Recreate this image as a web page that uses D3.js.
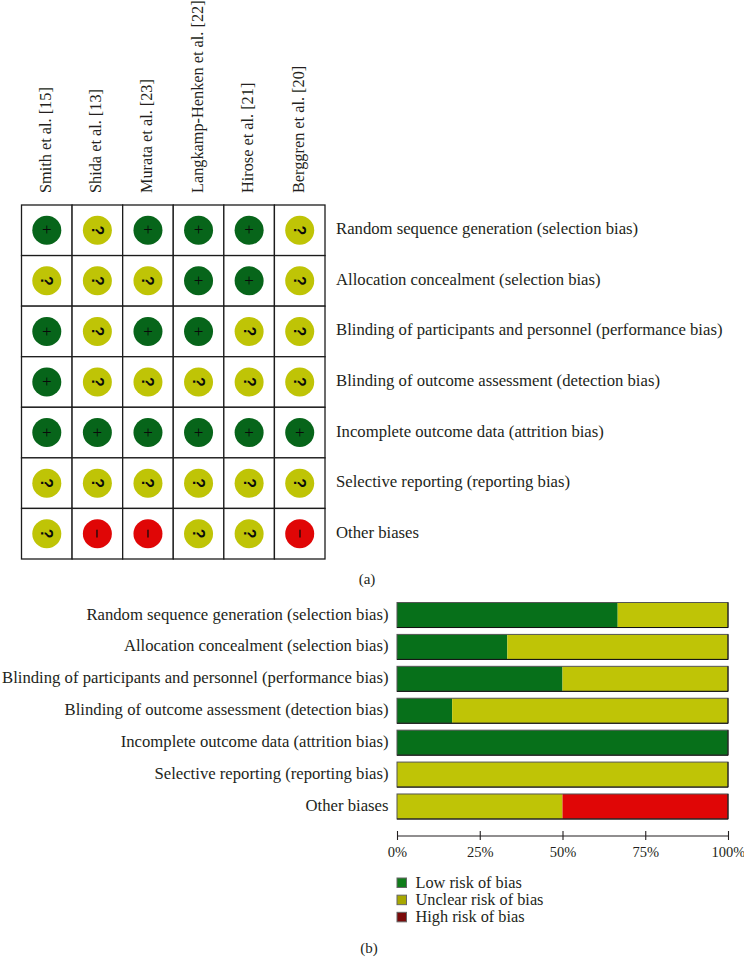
<!DOCTYPE html>
<html>
<head>
<meta charset="utf-8">
<script src="https://cdn.jsdelivr.net/npm/d3@7"></script>
<style>
html,body{margin:0;padding:0;background:#fff;overflow:hidden}
svg{display:block}
text{font-family:"Liberation Serif",serif;fill:#231f20}
</style>
</head>
<body>
<svg id="c" width="744" height="957"></svg>
<script>
const studies = ["Smith et al. [15]","Shida et al. [13]","Murata et al. [23]","Langkamp-Henken et al. [22]","Hirose et al. [21]","Berggren et al. [20]"];
const domains = ["Random sequence generation (selection bias)","Allocation concealment (selection bias)","Blinding of participants and personnel (performance bias)","Blinding of outcome assessment (detection bias)","Incomplete outcome data (attrition bias)","Selective reporting (reporting bias)","Other biases"];
const judgements = [
  ["+","?","+","+","+","?"],
  ["?","?","?","+","+","?"],
  ["+","?","+","+","?","?"],
  ["+","?","?","?","?","?"],
  ["+","+","+","+","+","+"],
  ["?","?","?","?","?","?"],
  ["?","-","-","?","?","-"]
];
const lowPct = [66.67,33.33,50,16.67,100,0,0];
const unclearPct = [33.33,66.67,50,83.33,0,100,50];
const highPct = [0,0,0,0,0,0,50];
const ticks = [0,25,50,75,100];
const legendLabels = ["Low risk of bias","Unclear risk of bias","High risk of bias"];
const legendColors = ["#107c1a","#a8a800","#7a0a0a"];
const markColors = {"+":"#07651a","?":"#bfc406","-":"#e00606"};
const barColors = ["#07701a","#bfc406","#e00606"];

const svg = d3.select("#c");
const ink = "#231f20";

/* panel (a) */
const mx = d3.scaleBand().domain(d3.range(studies.length)).range([21.5,325]);
const my = d3.scaleBand().domain(d3.range(domains.length)).range([205,559]);

svg.selectAll(".study").data(studies).join("text").attr("class","study")
  .attr("transform",(d,i)=>`translate(${mx(i)+mx.bandwidth()/2+4},193) rotate(-90)`)
  .attr("font-size",16.3).text(d=>d);

judgements.forEach((row,r)=>row.forEach((j,c)=>{
  const cx = mx(c)+mx.bandwidth()/2, cy = my(r)+my.bandwidth()/2;
  svg.append("rect").attr("x",mx(c)).attr("y",my(r))
    .attr("width",mx.bandwidth()).attr("height",my.bandwidth())
    .attr("fill","#fff").attr("stroke","#1c1c1c").attr("stroke-width",1.3);
  svg.append("circle").attr("cx",cx).attr("cy",cy).attr("r",14.5).attr("fill",markColors[j]);
  svg.append("text").attr("transform",`translate(${cx},${cy}) rotate(${j==="+"?0:90})`)
    .attr("text-anchor","middle").attr("dy",j==="+"?"0.3em":"0.35em")
    .attr("font-size",j==="?"?16:17).attr("font-weight",j==="+"?"normal":"bold")
    .style("font-family",j==="?"?'"Liberation Sans",sans-serif':null)
    .style("fill","#0a0a0a").text(j==="-"?"\u2212":j);
}));

svg.selectAll(".dom").data(domains).join("text").attr("class","dom")
  .attr("x",336).attr("y",(d,i)=>my(i)+my.bandwidth()/2+4)
  .attr("font-size",16.7).text(d=>d);

svg.append("text").attr("x",367).attr("y",584).attr("text-anchor","middle").attr("font-size",15).text("(a)");

/* panel (b) */
const bx = d3.scaleLinear().domain([0,100]).range([397,728]);
const by = d3.scaleBand().domain(d3.range(domains.length)).range([602.5,819]).paddingInner(0.216).paddingOuter(0);

svg.selectAll(".lab").data(domains).join("text").attr("class","lab")
  .attr("x",388.5).attr("y",(d,i)=>by(i)+by.bandwidth()/2+4.5)
  .attr("text-anchor","end").attr("font-size",16.7).text(d=>d);

domains.forEach((d,i)=>{
  let acc = 0;
  [lowPct[i],unclearPct[i],highPct[i]].forEach((v,k)=>{
    if(v>0){
      svg.append("rect").attr("x",bx(acc)).attr("y",by(i))
        .attr("width",bx(acc+v)-bx(acc)).attr("height",by.bandwidth())
        .attr("fill",barColors[k]);
      acc += v;
    }
  });
  svg.append("rect").attr("x",bx(0)).attr("y",by(i)).attr("width",bx(100)-bx(0)).attr("height",by.bandwidth())
    .attr("fill","none").attr("stroke","#555").attr("stroke-width",1);
  svg.append("path").attr("d",`M${bx(0)},${by(i)+by.bandwidth()}H${bx(100)}V${by(i)}`)
    .attr("fill","none").attr("stroke","#111").attr("stroke-width",1);
});

const axis = d3.axisBottom(bx).tickValues(ticks).tickFormat(d=>d+"%").tickSizeOuter(0).tickSizeInner(0).tickPadding(11);
const ax = svg.append("g").attr("transform","translate(0,835.5)").call(axis);
ax.select(".domain").attr("stroke",ink).attr("stroke-width",1.1);
ax.selectAll("text").attr("font-size",14.5).style("font-family",'"Liberation Serif",serif').style("fill",ink);
ax.selectAll(".tick line").attr("y1",-4.5).attr("y2",4.5).attr("stroke",ink).attr("stroke-width",1.1);

const ly = d3.scaleBand().domain(d3.range(legendLabels.length)).range([874.5,926]);
legendLabels.forEach((l,i)=>{
  svg.append("rect").attr("x",397).attr("y",ly(i)+3.5).attr("width",9.5).attr("height",9.5)
    .attr("fill",legendColors[i]).attr("stroke","#666").attr("stroke-width",1);
  svg.append("text").attr("x",415.5).attr("y",ly(i)+13).attr("font-size",16.3).text(l);
});

svg.append("text").attr("x",369).attr("y",953).attr("text-anchor","middle").attr("font-size",15).text("(b)");
</script>
</body>
</html>
